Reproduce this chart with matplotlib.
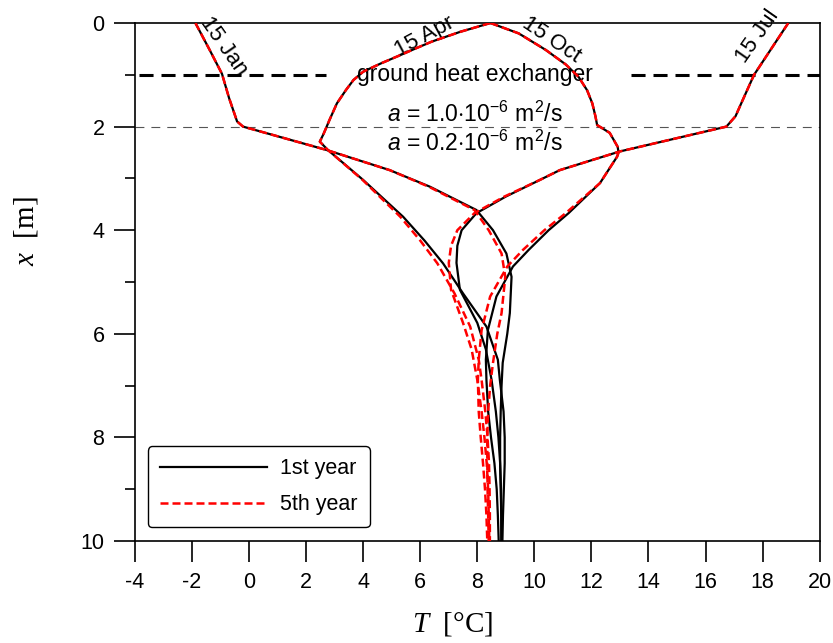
import matplotlib
matplotlib.use("Agg")
import matplotlib.pyplot as plt

# depth [m] and temperature [degC] per month, 1st and 5th year
jan_x = [0, 0.5, 0.98, 1.45, 1.9, 2.0, 2.45, 2.84, 3.16, 3.61, 4.0, 4.45, 4.9, 5.6, 6.0, 6.56, 7.0, 7.5, 8.0, 8.5, 9.0, 9.5, 10]
jan_t1 = [-1.88, -1.4, -0.95, -0.7, -0.42, -0.21, 2.71, 4.93, 6.34, 7.97, 8.55, 9.02, 9.2, 9.14, 9.05, 8.89, 8.85, 8.82, 8.8, 8.8, 8.82, 8.84, 8.85]
jan_t5 = [-1.88, -1.4, -0.95, -0.7, -0.42, -0.21, 2.71, 4.93, 6.3, 7.9, 8.4, 8.85, 8.98, 8.85, 8.7, 8.55, 8.45, 8.38, 8.35, 8.35, 8.36, 8.38, 8.4]

apr_x = [0, 0.17, 0.36, 0.5, 0.62, 0.78, 0.94, 1.1, 1.29, 1.55, 1.87, 2.13, 2.29, 2.45, 3.03, 3.74, 4.2, 4.64, 5.22, 5.86, 6.5, 6.89, 7.5, 8.0, 8.5, 9.0, 9.5, 10]
apr_t1 = [8.46, 7.4, 6.4, 5.8, 5.3, 4.62, 4.0, 3.66, 3.4, 3.08, 2.82, 2.62, 2.48, 2.76, 4.0, 5.4, 6.15, 6.8, 7.5, 8.32, 8.72, 8.79, 8.92, 8.96, 8.96, 8.93, 8.9, 8.88]
apr_t5 = [8.46, 7.4, 6.4, 5.8, 5.3, 4.62, 4.0, 3.66, 3.4, 3.08, 2.82, 2.62, 2.48, 2.76, 3.98, 5.3, 6.0, 6.6, 7.2, 7.75, 8.05, 8.15, 8.28, 8.36, 8.41, 8.43, 8.44, 8.44]

jul_x = [0, 0.5, 1.0, 1.49, 1.8, 2.0, 2.48, 2.84, 3.03, 3.35, 3.67, 4.0, 4.3, 4.63, 5.15, 5.79, 6.3, 6.89, 7.5, 8.0, 8.5, 9.0, 9.5, 10]
jul_t1 = [18.9, 18.3, 17.7, 17.3, 17.05, 16.73, 12.99, 10.89, 10.19, 9.0, 7.97, 7.45, 7.3, 7.27, 7.39, 8.0, 8.3, 8.5, 8.65, 8.74, 8.8, 8.83, 8.84, 8.84]
jul_t5 = [18.9, 18.3, 17.7, 17.3, 17.05, 16.73, 12.99, 10.89, 10.19, 8.95, 7.9, 7.3, 7.08, 7.0, 7.08, 7.5, 7.8, 8.0, 8.15, 8.25, 8.33, 8.38, 8.4, 8.42]

oct_x = [0, 0.2, 0.52, 0.8, 1.04, 1.3, 1.55, 1.8, 1.97, 2.12, 2.39, 2.5, 2.58, 3.09, 3.67, 4.0, 4.38, 4.7, 5.28, 5.93, 6.5, 6.89, 7.5, 8.0, 8.5, 9.0, 9.5, 10]
oct_t1 = [8.46, 9.45, 10.4, 11.1, 11.55, 11.85, 12.03, 12.14, 12.2, 12.64, 12.92, 12.95, 12.9, 12.3, 11.2, 10.5, 9.8, 9.25, 8.67, 8.37, 8.3, 8.32, 8.38, 8.48, 8.6, 8.68, 8.72, 8.75]
oct_t5 = [8.46, 9.45, 10.4, 11.1, 11.55, 11.85, 12.03, 12.14, 12.2, 12.64, 12.92, 12.95, 12.9, 12.3, 11.1, 10.35, 9.6, 9.05, 8.45, 8.15, 8.05, 8.02, 8.05, 8.12, 8.2, 8.27, 8.32, 8.35]

months = ["15 Jan", "15 Apr", "15 Jul", "15 Oct"]
series_labels = ["1st year", "5th year"]
xticks = list(range(-4, 21, 2))
yticks = [0, 2, 4, 6, 8, 10]

plt.rcParams['font.family'] = 'Liberation Sans'
plt.rcParams['axes.unicode_minus'] = False
plt.rcParams['mathtext.fontset'] = 'custom'
plt.rcParams['mathtext.rm'] = 'Liberation Sans'
plt.rcParams['mathtext.it'] = 'Liberation Sans:italic'
plt.rcParams['mathtext.sf'] = 'Liberation Serif:italic'

fig = plt.figure(figsize=(8.33, 6.43), dpi=100)
ax = fig.add_axes([0.162, 0.1586, 0.822, 0.8056])

curves = [(jan_x, jan_t1, jan_t5), (apr_x, apr_t1, apr_t5),
          (jul_x, jul_t1, jul_t5), (oct_x, oct_t1, oct_t5)]
for i, (depth, t1, t5) in enumerate(curves):
    ax.plot(t1, depth, color='black', lw=1.6, zorder=3,
            label=series_labels[0] if i == 0 else None)
for i, (depth, t1, t5) in enumerate(curves):
    ax.plot(t5, depth, color='#ff0000', lw=1.8, dashes=(3.2, 1.6), zorder=4,
            label=series_labels[1] if i == 0 else None)

# ground heat exchanger level and layer boundary
ax.plot([-3.85, 2.7], [1, 1], color='black', lw=2.2, dashes=(4.6, 2.6), zorder=2)
ax.plot([13.4, 20], [1, 1], color='black', lw=2.2, dashes=(4.6, 2.6), zorder=2)
ax.axhline(2, color='#555555', lw=0.8, dashes=(8, 6.3), zorder=2)

ax.text(7.9, 1.0, "ground heat exchanger", ha='center', va='center', fontsize=16.5)
ax.text(7.9, 1.76, r"$a$ = 1.0$\cdot$10$^{-6}$ m$^2$/s", ha='center', va='center', fontsize=16.5)
ax.text(7.9, 2.33, r"$a$ = 0.2$\cdot$10$^{-6}$ m$^2$/s", ha='center', va='center', fontsize=16.5)

# month labels along the curves
ax.text(-0.88, 0.45, months[0], rotation=-55, ha='center', va='center', fontsize=16)
ax.text(6.16, 0.26, months[1], rotation=28, ha='center', va='center', fontsize=16)
ax.text(17.83, 0.26, months[2], rotation=55, ha='center', va='center', fontsize=16)
ax.text(10.6, 0.33, months[3], rotation=-34, ha='center', va='center', fontsize=16)

ax.set_xlim(-4, 20)
ax.set_ylim(10, 0)
ax.set_xticks(xticks)
ax.set_yticks(yticks)
ax.set_yticks([1, 3, 5, 7, 9], minor=True)
ax.tick_params(axis='both', which='major', direction='out', length=15, width=1.2,
               labelsize=15.5, pad=7)
ax.tick_params(axis='y', which='minor', direction='out', length=7.5, width=1.2)
for sp in ax.spines.values():
    sp.set_linewidth(1.2)

ax.set_xlabel(r"$\mathsf{T}$  [°C]", family='Liberation Serif', fontsize=21)
ax.xaxis.set_label_coords(0.464, -0.133)
ax.set_ylabel(r"$\mathsf{x}$  [m]", family='Liberation Serif', fontsize=21)
ax.yaxis.set_label_coords(-0.139, 0.598)

leg = ax.legend(loc='lower left', bbox_to_anchor=(0.019, 0.027), borderaxespad=0,
                fontsize=15.5, handlelength=5.0, handletextpad=0.6, labelspacing=0.7,
                borderpad=0.55, fancybox=True, framealpha=1, edgecolor='black')
leg.get_frame().set_linewidth(1.0)

fig.savefig("out.png", dpi=100)
